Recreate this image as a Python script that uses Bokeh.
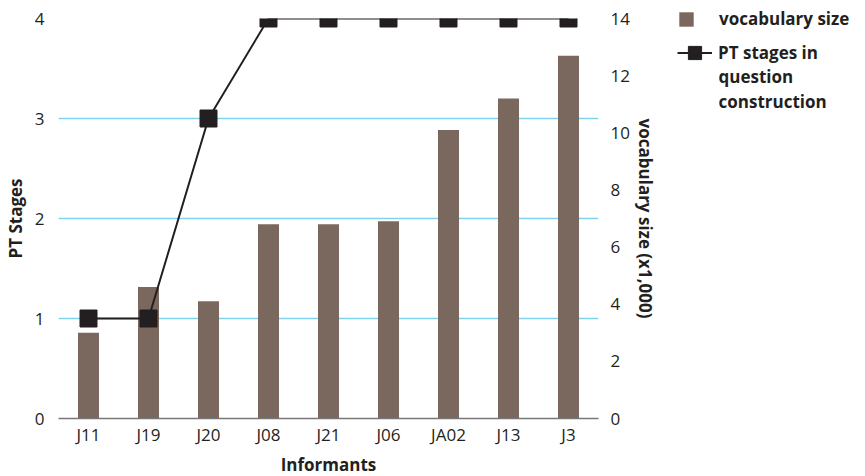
from bokeh.plotting import figure
from bokeh.models import Range1d, LinearAxis, Legend, LegendItem, FixedTicker, Label
from bokeh.layouts import row, column
from bokeh.embed import file_html
from bokeh.resources import INLINE

informants = ["J11", "J19", "J20", "J08", "J21", "J06", "JA02", "J13", "J3"]
vocab_size = [3.0, 4.6, 4.1, 6.8, 6.8, 6.9, 10.1, 11.2, 12.7]
pt_stages = [1, 1, 3, 4, 4, 4, 4, 4, 4]

FONT = "Open Sans"
TXT = "#231f20"
BAR = "#7a685e"
FS = "17px"
NAN = float("nan")

p = figure(x_range=informants, y_range=Range1d(0, 4),
           frame_width=540, frame_height=400,
           output_backend="svg", toolbar_location=None,
           min_border_left=50, min_border_top=18, min_border_bottom=52, min_border_right=73)
p.extra_y_ranges = {"vocab": Range1d(0, 14)}

bars = p.vbar(x=informants, top=vocab_size, width=0.35, y_range_name="vocab",
              fill_color=BAR, line_color=None)
ln = p.line(x=informants, y=pt_stages, line_color=TXT, line_width=2)
sq = p.scatter(x=informants, y=pt_stages, marker="square", size=17,
               fill_color=TXT, line_color=TXT)

p.outline_line_color = None
p.xgrid.grid_line_color = None
p.ygrid.ticker = FixedTicker(ticks=[1, 2, 3, 4])
p.ygrid.grid_line_color = "#7fd3f0"
p.ygrid.grid_line_width = 1.5

# left axis
ya = p.yaxis[0]
ya.ticker = FixedTicker(ticks=[0, 1, 2, 3, 4])
ya.axis_label = "PT Stages"
ya.axis_line_color = None
ya.major_tick_line_color = None
ya.minor_tick_line_color = None

# bottom axis
xa = p.xaxis[0]
xa.axis_label = "Informants"
xa.axis_line_color = "#777777"
xa.axis_line_width = 1.5
xa.major_tick_line_color = None
xa.minor_tick_line_color = None

# right axis
ra = LinearAxis(y_range_name="vocab", axis_label="vocabulary size (x1,000)",
                ticker=FixedTicker(ticks=[0, 2, 4, 6, 8, 10, 12, 14]))
ra.axis_line_color = None
ra.major_tick_line_color = None
ra.minor_tick_line_color = None
p.add_layout(ra, "right")

for ax in [ya, xa, ra]:
    ax.major_label_text_font = FONT
    ax.major_label_text_font_size = FS
    ax.major_label_text_color = TXT
    ax.axis_label_text_font = FONT
    ax.axis_label_text_font_size = FS
    ax.axis_label_text_font_style = "bold"
    ax.axis_label_text_color = TXT
ya.major_label_standoff = 8
ra.major_label_standoff = 6
ra.axis_label_standoff = 1
xa.major_label_standoff = -2
xa.axis_label_standoff = 4

# legend panels
def legend_fig(h, left, top):
    f = figure(width=186, height=h, x_range=Range1d(0, 1), y_range=Range1d(0, 1),
               output_backend="svg", toolbar_location=None,
               min_border_left=left, min_border_top=top, min_border_right=0, min_border_bottom=0)
    f.axis.visible = False
    f.grid.grid_line_color = None
    f.outline_line_color = None
    return f

def style(leg):
    leg.label_text_font = FONT
    leg.label_text_font_size = FS
    leg.label_text_font_style = "bold"
    leg.label_text_color = TXT
    leg.border_line_color = None
    leg.background_fill_alpha = 0
    leg.margin = 0
    leg.padding = 0
    leg.spacing = 0
    leg.location = "top_left"

lgA = legend_fig(36, 6, 7)
lbar = lgA.vbar(x=[NAN], top=[NAN], width=0.5, fill_color=BAR, line_color=None)
legA = Legend(items=[LegendItem(label="vocabulary size", renderers=[lbar])])
style(legA)
legA.glyph_width = 18
legA.glyph_height = 18
legA.label_standoff = 24
legA.label_height = 18
lgA.add_layout(legA, "center")

lgB = legend_fig(120, 4, 0)
lline = lgB.line(x=[NAN], y=[NAN], line_color=TXT, line_width=2)
lsq = lgB.scatter(x=[NAN], y=[NAN], marker="square", size=17, fill_color=TXT, line_color=TXT)
legB = Legend(items=[LegendItem(label="PT stages in", renderers=[lline, lsq])])
style(legB)
legB.glyph_width = 35
legB.glyph_height = 33
legB.label_standoff = 6
lgB.add_layout(legB, "center")

rest = Label(x=41, y=92, x_units="screen", y_units="screen",
             text="question\nconstruction", text_baseline="top", text_align="left",
             text_font=FONT, text_font_size=FS, text_font_style="bold",
             text_color=TXT, text_line_height=1.1)
lgB.add_layout(rest)

open("out.html", "w").write(file_html(row(p, column(lgA, lgB)), INLINE))
